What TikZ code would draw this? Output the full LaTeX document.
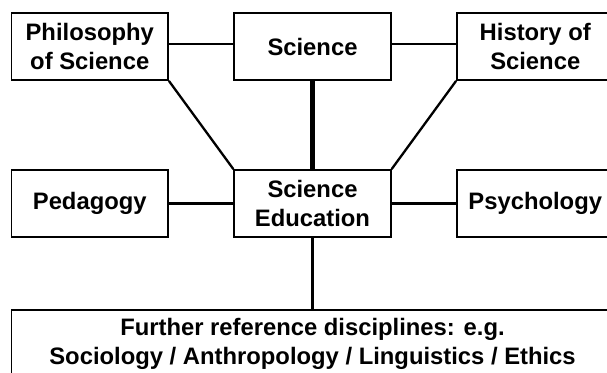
\documentclass[tikz,border=0pt]{standalone}
\usepackage{fontspec}
\setmainfont{Liberation Sans}
\begin{document}
\begin{tikzpicture}[x=1pt,y=-1pt,
  box/.style={draw=black, line width=1.8pt, fill=white, inner sep=0pt,
    minimum width=156.5pt, minimum height=67pt, align=center,
    font=\fontsize{23.8}{29}\selectfont\bfseries},
  wide/.style={box, minimum width=602pt},
  conn/.style={line width=2.3pt},
  thick conn/.style={line width=5.5pt},
  mid conn/.style={line width=3pt}]
\useasboundingbox (0,0) rectangle (607,372);
\node[box] (phil) at (89.75,46.5) {Philosophy\\of Science};
\node[box] (sci)  at (312.5,46.5) {Science};
\node[box] (hist) at (535.25,46.5) {History of\\Science};
\node[box] (ped)  at (89.75,203.5) {Pedagogy};
\node[box] (sed)  at (312.5,203.5) {Science\\Education};
\node[box] (psy)  at (535.25,203.5) {Psychology};
\node[wide] (further) at (312.5,343.5) {Further reference disciplines: e.g.\\Sociology / Anthropology / Linguistics / Ethics};
\draw[conn] ([yshift=2.4pt]phil.east) -- ([yshift=2.4pt]sci.west);
\draw[conn] ([yshift=2.4pt]sci.east) -- ([yshift=2.4pt]hist.west);
\draw[conn] (ped.east) -- (sed.west);
\draw[conn] (sed.east) -- (psy.west);
\draw[conn] (phil.south east) -- (sed.north west);
\draw[conn] (hist.south west) -- (sed.north east);
\draw[thick conn] (sci.south) -- (sed.north);
\draw[mid conn] (sed.south) -- (further.north);
\end{tikzpicture}
\end{document}
